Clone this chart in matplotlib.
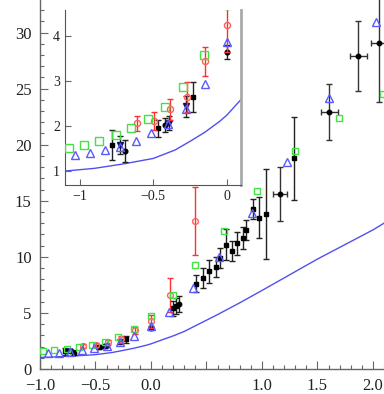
import matplotlib
matplotlib.use("Agg")
import matplotlib.pyplot as plt
from matplotlib.ticker import MultipleLocator, FixedLocator, FixedFormatter

plt.rcParams['font.family'] = ['Liberation Serif', 'DejaVu Serif']

# theory curve
line_x = [-1.1, -0.9, -0.7, -0.5, -0.35, -0.25, -0.15, -0.05, 0.0, 0.1, 0.2, 0.3, 0.45, 0.6, 0.8, 1.0, 1.25, 1.5, 1.75, 2.0, 2.1]
line_y = [1.0, 1.06, 1.16, 1.28, 1.47, 1.66, 1.86, 2.1, 2.24, 2.6, 2.95, 3.35, 4.1, 4.85, 5.9, 7.0, 8.4, 9.8, 11.1, 12.4, 13.0]

# green squares
green_x = [-1.073, -0.97, -0.87, -0.755, -0.65, -0.535, -0.417, -0.297, -0.156, 0.0, 0.195, 0.40, 0.66, 0.958, 1.30, 1.69, 2.09]
green_y = [1.52, 1.59, 1.67, 1.80, 1.96, 2.15, 2.43, 2.86, 3.59, 4.7, 6.6, 9.3, 12.3, 15.9, 19.4, 22.4, 24.5]

# blue triangles
blue_x = [-1.034, -0.93, -0.83, -0.728, -0.62, -0.512, -0.40, -0.279, -0.15, 0.0, 0.162, 0.38, 0.615, 0.907, 1.23, 1.606, 2.027]
blue_y = [1.36, 1.41, 1.47, 1.54, 1.67, 1.84, 2.04, 2.37, 2.93, 3.87, 5.1, 7.2, 10.0, 13.9, 18.5, 24.2, 30.9]

# red circles with errors
red_x = [-0.608, -0.497, -0.388, -0.27, -0.145, 0.0, 0.171, 0.396]
red_y = [2.06, 2.12, 2.37, 2.65, 3.44, 4.25, 6.6, 13.2]
red_err = [0.17, 0.2, 0.23, 0.33, 0.32, 0.6, 1.5, 3.0]

# black squares with errors
sq_x = [-0.778, -0.47, -0.229, 0.20, 0.23, 0.41, 0.47, 0.525, 0.585, 0.62, 0.676, 0.727, 0.778, 0.826, 0.856, 0.92, 0.976, 1.036, 1.29]
sq_y = [1.58, 1.95, 2.64, 5.4, 5.6, 7.6, 8.1, 8.7, 9.1, 9.9, 11.1, 10.5, 11.2, 11.7, 12.4, 14.3, 13.5, 13.8, 18.8]
sq_err = [0.33, 0.19, 0.33, 0.7, 0.7, 0.75, 0.9, 1.0, 0.9, 0.9, 1.35, 0.9, 1.0, 1.0, 0.9, 0.9, 1.8, 4.0, 3.7]

# black circles with errors
ci_x = [-0.694, -0.422, 0.0, 0.255]
ci_y = [1.45, 2.02, 3.65, 5.8]
ci_err = [0.24, 0.15, 0.15, 0.7]

# navy down-triangles with errors
nv_x = [-0.728, -0.395, -0.275]
nv_y = [1.59, 2.07, 2.44]
nv_err = [0.2, 0.15, 0.23]

# black circles with x and y errors
xe_x = [1.162, 1.606, 1.868, 2.057]
xe_y = [15.6, 22.9, 27.9, 29.1]
xe_xerr = [0.06, 0.077, 0.078, 0.07]
xe_yerr = [2.4, 2.5, 3.1, 5.3]

GREEN = '#44e044'
BLUE = '#5a5aff'
RED = '#ff3030'
EB = '#222222'


def draw(ax, ms_scale=1.0, cap=2.5):
    ax.plot(line_x, line_y, color='#5050f0', lw=1.0, zorder=1)
    ax.errorbar(sq_x, sq_y, yerr=sq_err, fmt='s', color='black', ms=3.2 * ms_scale,
                ecolor=EB, elinewidth=1.0, capsize=cap, capthick=1.0, zorder=3)
    ax.errorbar(ci_x, ci_y, yerr=ci_err, fmt='o', color='black', ms=3.2 * ms_scale,
                ecolor=EB, elinewidth=1.0, capsize=cap, capthick=1.0, zorder=3)
    ax.errorbar(nv_x, nv_y, yerr=nv_err, fmt='v', color='#101060', ms=3.5 * ms_scale,
                ecolor=EB, elinewidth=1.0, capsize=cap, capthick=1.0, zorder=3)
    ax.errorbar(xe_x, xe_y, xerr=xe_xerr, yerr=xe_yerr, fmt='o', color='black', ms=3.2 * ms_scale,
                ecolor='#333333', elinewidth=1.0, capsize=cap, capthick=1.0, zorder=3)
    ax.errorbar(red_x, red_y, yerr=red_err, fmt='o', mfc='none', mec='#ff6060', ms=4.2 * ms_scale,
                ecolor=RED, elinewidth=1.0, capsize=cap, capthick=1.0, zorder=4)
    ax.plot(green_x, green_y, 's', mfc='none', mec=GREEN, ms=5.0 * ms_scale, mew=1.0, zorder=5)
    ax.plot(blue_x, blue_y, '^', mfc='none', mec=BLUE, ms=6.0 * ms_scale, mew=1.0, zorder=5)


fig = plt.figure(figsize=(3.84, 3.94), dpi=100)
ax = fig.add_axes([40 / 384, 25 / 394, 344 / 384, 369 / 394])
draw(ax)
ax.set_xlim(-1.0, 2.1)
ax.set_ylim(0, 32.9)
for s in ['top', 'right']:
    ax.spines[s].set_visible(False)
for s in ['left', 'bottom']:
    ax.spines[s].set_color('#666666')
    ax.spines[s].set_linewidth(1.0)
ax.xaxis.set_major_locator(FixedLocator([-1.0, -0.5, 0.0, 0.5, 1.0, 1.5, 2.0]))
ax.xaxis.set_major_formatter(FixedFormatter(['\u22121.0', '\u22120.5', '0.0', '', '1.0', '1.5', '2.0']))
ax.xaxis.set_minor_locator(MultipleLocator(0.1))
ax.yaxis.set_major_locator(MultipleLocator(5))
ax.yaxis.set_minor_locator(MultipleLocator(1))
ax.tick_params(which='both', direction='in', colors='#666666', labelcolor='#222222', labelsize=12)
ax.tick_params(which='major', length=6, width=0.8)
ax.tick_params(which='minor', length=3, width=0.8)
ax.tick_params(axis='x', pad=6.5)
ax.tick_params(axis='y', pad=6)

# inset
ins = fig.add_axes([65 / 384, (394 - 185) / 394, 176 / 384, 175 / 394])
ins.set_facecolor('white')
draw(ins, ms_scale=1.05, cap=2.5)
ins.set_xlim(-1.1, 0.097)
ins.set_ylim(0.69, 4.58)
ins.spines['top'].set_visible(False)
ins.spines['left'].set_color('#555555')
ins.spines['bottom'].set_color('#555555')
ins.spines['right'].set_color('#aaaaaa')
ins.spines['right'].set_linewidth(2.0)
ins.xaxis.set_major_locator(FixedLocator([-1.0, -0.5, 0.0]))
ins.xaxis.set_major_formatter(FixedFormatter(['\u22121', '\u22120.5', '0']))
ins.yaxis.set_major_locator(FixedLocator([1, 2, 3, 4]))
ins.yaxis.set_major_formatter(FixedFormatter(['1', '2', '3', '4']))
ins.tick_params(which='both', direction='in', colors='#666666', labelcolor='#222222', labelsize=10, length=4, width=0.8)

fig.savefig('out.png', dpi=100)
